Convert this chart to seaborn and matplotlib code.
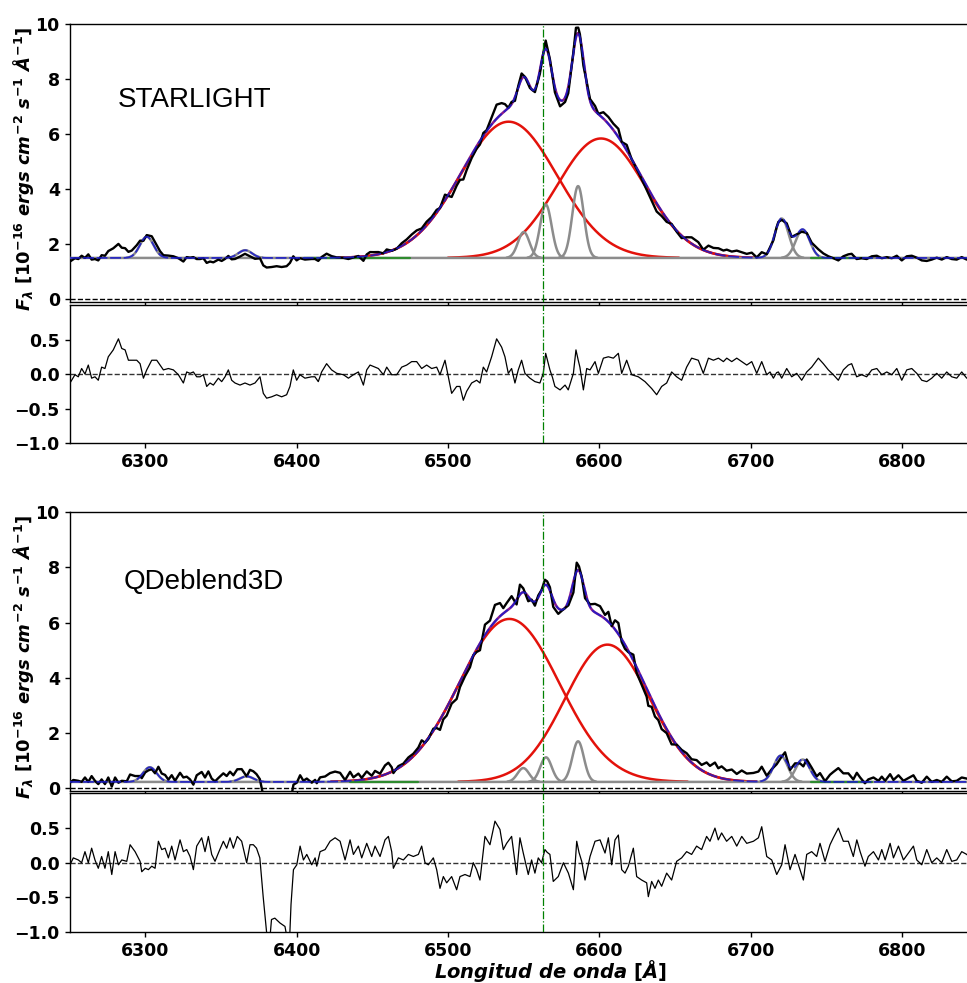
import numpy as np
import seaborn as sns
import matplotlib.pyplot as plt

# ---------------- STARLIGHT fit (upper pair of panels) ----------------
sl_base = 1.5
sl_broad_center = [6540.0, 6601.0]
sl_broad_amp = [4.95, 4.34]
sl_broad_sigma = [32.0, 29.0]
sl_narrow_center = [6301.0, 6366.0, 6550.0, 6564.6, 6585.9, 6720.4, 6734.3]
sl_narrow_amp = [0.77, 0.28, 0.94, 1.94, 2.61, 1.43, 1.03]
sl_narrow_sigma = [4.5, 4.5, 3.8, 3.8, 3.8, 4.6, 4.6]

sl_res_wl = [6250.3, 6253.6, 6255.8, 6258.0, 6260.2, 6262.4, 6264.6, 6266.8, 6269.0, 6271.2,
             6273.4, 6275.6, 6278.9, 6282.3, 6284.5, 6286.7, 6288.9, 6291.1, 6294.4, 6296.6,
             6298.8, 6301.0, 6304.3, 6307.6, 6309.8, 6312.0, 6315.3, 6318.6, 6321.9, 6325.2,
             6327.4, 6329.6, 6331.8, 6334.0, 6336.2, 6338.4, 6340.6, 6342.8, 6345.0, 6348.3,
             6350.5, 6352.7, 6354.9, 6357.1, 6359.3, 6362.6, 6365.9, 6369.2, 6372.5, 6375.8,
             6378.0, 6380.2, 6383.5, 6386.8, 6390.1, 6393.4, 6395.6, 6397.8, 6400.0, 6402.2,
             6405.5, 6409.9, 6412.1, 6414.3, 6416.5, 6419.8, 6423.1, 6426.5, 6430.9, 6434.2,
             6437.5, 6440.8, 6444.1, 6446.3, 6448.5, 6450.7, 6454.0, 6457.3, 6459.5, 6462.8,
             6466.1, 6469.4, 6472.7, 6476.0, 6479.3, 6482.6, 6485.9, 6489.2, 6492.5, 6494.7,
             6498.0, 6500.2, 6502.4, 6505.7, 6507.9, 6510.1, 6512.3, 6515.6, 6518.9, 6521.1,
             6523.3, 6525.5, 6528.8, 6532.1, 6535.4, 6537.6, 6539.8, 6542.0, 6544.2, 6546.4,
             6548.6, 6550.8, 6554.1, 6557.4, 6560.7, 6562.9, 6564.5, 6567.3, 6569.0, 6570.6,
             6574.0, 6577.3, 6579.4, 6582.8, 6584.5, 6586.0, 6587.1, 6589.4, 6591.6, 6593.8,
             6597.1, 6599.3, 6602.6, 6605.9, 6609.2, 6612.5, 6614.7, 6618.0, 6621.3, 6625.7,
             6630.1, 6634.5, 6637.8, 6641.1, 6644.4, 6647.7, 6651.0, 6654.3, 6657.6, 6660.9,
             6665.3, 6668.6, 6672.0, 6675.3, 6678.6, 6681.9, 6684.1, 6687.4, 6690.7, 6694.0,
             6697.3, 6700.6, 6703.9, 6707.2, 6710.5, 6712.7, 6714.9, 6717.0, 6718.2, 6720.4,
             6723.7, 6727.0, 6730.3, 6733.6, 6736.9, 6740.2, 6744.6, 6747.9, 6751.2, 6754.5,
             6757.8, 6761.1, 6764.4, 6766.6, 6769.9, 6773.2, 6776.5, 6779.9, 6783.2, 6786.5,
             6789.8, 6793.1, 6796.4, 6799.7, 6803.0, 6806.3, 6809.6, 6812.9, 6816.2, 6819.5,
             6822.8, 6826.1, 6829.4, 6832.7, 6836.0, 6839.3, 6842.6, 6846.0, 6850.0]
sl_res = [-0.13, -0.01, -0.04, 0.08, 0.00, 0.13, -0.06, -0.04, -0.09, 0.10,
          0.08, 0.25, 0.35, 0.51, 0.37, 0.35, 0.20, 0.20, 0.20, 0.15,
          -0.06, 0.06, 0.20, 0.20, 0.13, 0.06, 0.08, 0.06, -0.01, -0.13,
          0.03, 0.01, 0.03, -0.04, -0.04, -0.01, -0.18, -0.13, -0.16, -0.06,
          -0.11, -0.04, 0.06, -0.09, -0.13, -0.16, -0.13, -0.16, -0.13, -0.04,
          -0.28, -0.35, -0.33, -0.30, -0.33, -0.30, -0.18, 0.06, -0.09, -0.01,
          -0.06, -0.04, -0.04, -0.11, 0.03, 0.15, 0.06, 0.01, -0.01, -0.06,
          -0.01, 0.03, -0.16, 0.06, 0.13, 0.11, 0.08, -0.01, 0.10, -0.01,
          -0.01, 0.10, 0.13, 0.18, 0.18, 0.08, 0.13, 0.08, 0.10, -0.01,
          0.20, -0.04, -0.28, -0.18, -0.18, -0.38, -0.25, -0.13, -0.09, -0.13,
          0.10, 0.03, 0.25, 0.51, 0.39, 0.25, 0.01, 0.08, -0.13, 0.06,
          0.20, 0.01, -0.06, -0.11, -0.13, 0.01, 0.30, 0.06, -0.05, -0.18,
          -0.23, -0.16, -0.23, 0.01, 0.35, 0.20, 0.10, -0.23, 0.08, 0.06,
          0.18, 0.01, 0.23, 0.25, 0.23, 0.30, 0.01, 0.20, -0.01, -0.04,
          -0.11, -0.21, -0.30, -0.18, -0.13, 0.03, -0.04, -0.09, 0.10, 0.23,
          0.20, 0.01, 0.23, 0.20, 0.23, 0.18, 0.23, 0.18, 0.23, 0.18,
          0.13, 0.18, 0.01, 0.18, -0.01, 0.03, -0.06, 0.02, 0.03, -0.06,
          0.08, -0.04, 0.01, -0.09, 0.03, 0.10, 0.23, 0.15, 0.06, -0.01,
          -0.09, 0.06, 0.13, 0.15, -0.04, -0.01, -0.04, 0.06, 0.08, -0.01,
          0.03, -0.01, 0.08, -0.09, 0.06, 0.08, 0.01, -0.09, -0.11, -0.06,
          0.01, -0.06, 0.03, -0.04, -0.06, 0.03, -0.06, -0.02, -0.05]

# ---------------- QDeblend3D fit (lower pair of panels) ----------------
qd_base = 0.23
qd_broad_center = [6540.5, 6605.3]
qd_broad_amp = [5.9, 4.97]
qd_broad_sigma = [33.0, 28.0]
qd_narrow_center = [6303.0, 6367.0, 6549.7, 6564.7, 6585.9, 6719.7, 6734.3]
qd_narrow_amp = [0.53, 0.20, 0.50, 0.89, 1.47, 0.95, 0.81]
qd_narrow_sigma = [4.5, 4.5, 3.8, 3.8, 3.8, 4.6, 4.6]

qd_res_wl = [6250.3, 6252.5, 6255.8, 6258.0, 6260.2, 6262.4, 6264.6, 6266.8, 6269.0, 6271.2,
             6273.4, 6275.6, 6277.9, 6280.1, 6282.3, 6284.5, 6287.8, 6290.0, 6293.3, 6296.6,
             6297.7, 6300.0, 6302.1, 6304.3, 6306.5, 6308.7, 6310.9, 6313.1, 6315.3, 6317.5,
             6319.7, 6323.0, 6325.2, 6327.4, 6329.6, 6331.8, 6334.0, 6337.3, 6339.5, 6341.7,
             6343.9, 6346.1, 6348.3, 6351.6, 6353.8, 6356.0, 6358.2, 6360.8, 6363.7, 6367.0,
             6369.2, 6371.4, 6373.5, 6375.7, 6377.9, 6380.1, 6381.2, 6382.7, 6383.4, 6385.6,
             6389.0, 6392.3, 6393.8, 6395.0, 6396.3, 6397.9, 6400.1, 6402.3, 6404.5, 6406.7,
             6410.0, 6412.2, 6413.3, 6415.5, 6418.8, 6422.1, 6425.4, 6428.7, 6432.0, 6435.3,
             6437.5, 6440.8, 6443.0, 6446.3, 6449.6, 6451.8, 6455.1, 6458.4, 6460.6, 6462.8,
             6463.9, 6467.2, 6470.5, 6473.8, 6477.1, 6480.4, 6482.6, 6484.8, 6487.0, 6490.3,
             6492.5, 6494.7, 6496.9, 6499.1, 6502.4, 6505.7, 6507.9, 6511.2, 6514.5, 6516.7,
             6518.9, 6521.1, 6524.4, 6527.7, 6531.0, 6534.3, 6536.5, 6538.7, 6542.0, 6545.3,
             6547.5, 6549.7, 6553.0, 6555.2, 6557.4, 6559.6, 6561.8, 6564.0, 6565.5, 6567.3,
             6569.5, 6572.8, 6576.2, 6579.5, 6582.8, 6585.0, 6586.5, 6588.3, 6590.5, 6593.8,
             6597.1, 6600.4, 6603.7, 6605.9, 6608.1, 6610.3, 6612.5, 6614.7, 6616.9, 6619.1,
             6622.4, 6624.6, 6627.9, 6631.2, 6632.3, 6634.5, 6636.7, 6638.9, 6641.1, 6644.4,
             6647.7, 6651.0, 6654.3, 6657.6, 6660.9, 6664.2, 6667.5, 6670.8, 6673.0, 6676.3,
             6678.5, 6680.7, 6684.0, 6687.4, 6690.7, 6694.0, 6697.3, 6701.7, 6705.0, 6707.2,
             6710.5, 6713.8, 6717.1, 6720.4, 6722.6, 6725.9, 6729.2, 6732.5, 6734.7, 6736.9,
             6740.2, 6743.5, 6745.7, 6749.0, 6752.3, 6754.5, 6757.8, 6761.1, 6764.4, 6767.7,
             6770.0, 6772.2, 6775.4, 6777.6, 6781.0, 6784.3, 6786.5, 6788.7, 6792.0, 6794.2,
             6797.5, 6800.8, 6804.1, 6807.4, 6809.6, 6812.9, 6816.2, 6819.5, 6822.8, 6826.1,
             6829.4, 6832.7, 6836.0, 6839.3, 6842.6, 6846.0, 6850.0]
qd_res = [-0.03, 0.07, 0.04, 0.00, 0.16, 0.00, 0.21, 0.04, -0.08, 0.09,
          -0.08, 0.16, -0.17, 0.16, -0.03, 0.04, 0.02, 0.26, 0.16, 0.02,
          -0.13, -0.08, -0.10, -0.05, -0.08, 0.31, 0.19, 0.21, 0.07, 0.24,
          0.04, 0.33, 0.16, 0.19, 0.09, -0.10, 0.24, 0.36, 0.16, 0.38,
          0.12, 0.02, 0.14, 0.31, 0.21, 0.36, 0.21, 0.38, 0.31, 0.00,
          0.26, 0.26, 0.21, 0.07, -0.49, -0.99, -1.20, -1.00, -0.82, -0.80,
          -0.87, -0.92, -1.10, -1.30, -0.60, -0.10, -0.03, 0.24, 0.04, 0.12,
          -0.03, 0.07, -0.05, 0.16, 0.19, 0.31, 0.36, 0.31, 0.04, 0.33,
          0.12, 0.24, 0.07, 0.28, 0.09, 0.24, 0.09, 0.33, 0.38, 0.16,
          -0.08, 0.07, 0.04, 0.12, 0.09, 0.12, 0.24, 0.00, -0.03, 0.07,
          -0.10, -0.37, -0.20, -0.29, -0.20, -0.39, -0.20, -0.17, -0.20, 0.00,
          -0.10, -0.25, 0.38, 0.26, 0.60, 0.48, 0.19, 0.28, 0.38, -0.17,
          0.36, 0.14, -0.17, 0.04, -0.15, 0.07, 0.00, 0.19, 0.15, 0.12,
          -0.27, -0.20, 0.00, -0.15, -0.39, 0.31, 0.15, 0.02, -0.25, 0.09,
          0.31, 0.33, 0.14, 0.36, -0.03, 0.33, 0.40, -0.10, -0.15, -0.05,
          0.21, -0.20, -0.25, -0.29, -0.49, -0.27, -0.37, -0.25, -0.34, -0.15,
          -0.25, 0.02, 0.07, 0.16, 0.12, 0.24, 0.19, 0.38, 0.31, 0.50,
          0.33, 0.43, 0.31, 0.38, 0.24, 0.38, 0.28, 0.31, 0.36, 0.52,
          0.09, 0.04, -0.17, -0.03, 0.26, -0.10, 0.12, -0.10, -0.25, 0.12,
          0.16, 0.09, 0.28, 0.02, 0.26, 0.36, 0.50, 0.31, 0.31, 0.09,
          0.33, 0.16, -0.05, 0.09, 0.16, 0.04, 0.19, 0.04, 0.28, 0.07,
          0.24, 0.04, 0.14, 0.24, 0.04, -0.03, 0.19, 0.00, 0.07, 0.00,
          0.19, 0.02, 0.04, 0.16, 0.12, 0.05, 0.08]

sl_green = [(6405, 6475), (6740, 6780)]
qd_green = [(6435, 6480), (6740, 6780)]
halpha = 6563.0
xlim = (6250, 6850)

assert len(sl_res_wl) == len(sl_res) and len(qd_res_wl) == len(qd_res)

sns.set_theme(style='ticks')
plt.rcParams['font.family'] = ['DejaVu Sans']
plt.rcParams['font.weight'] = 'bold'
plt.rcParams['text.color'] = 'black'
plt.rcParams['axes.labelcolor'] = 'black'
plt.rcParams['xtick.color'] = 'black'
plt.rcParams['ytick.color'] = 'black'
plt.rcParams['mathtext.fontset'] = 'custom'
plt.rcParams['mathtext.rm'] = 'DejaVu Sans:bold'
plt.rcParams['mathtext.it'] = 'DejaVu Sans:italic:bold'
plt.rcParams['mathtext.bf'] = 'DejaVu Sans:bold'


def gauss(x, c, a, s):
    return a * np.exp(-0.5 * ((x - c) / s) ** 2)


def line(ax, x, y, **kw):
    sns.lineplot(x=x, y=y, ax=ax, sort=False, errorbar=None, **kw)


def draw_fit(ax, rax, base, bc, ba, bs, nc, na, ns, res_wl, res, gw):
    grid = np.linspace(xlim[0], xlim[1], 2401)
    broad = sum(gauss(grid, c, a, s) for c, a, s in zip(bc, ba, bs))
    narrow = sum(gauss(grid, c, a, s) for c, a, s in zip(nc, na, ns))
    total = base + broad + narrow

    wl = np.array(res_wl)
    r = np.array(res)
    obs = base + r
    for c, a, s in zip(bc, ba, bs):
        obs = obs + gauss(wl, c, a, s)
    for c, a, s in zip(nc, na, ns):
        obs = obs + gauss(wl, c, a, s)

    # full model underneath (purple)
    m = broad > 0.01
    line(ax, grid[m], total[m], color='#8b1a8b', lw=1.8, zorder=2)
    # broad components
    for c, a, s in zip(bc, ba, bs):
        g = gauss(grid, c, a, s)
        m = g > 0.01
        line(ax, grid[m], base + g[m], color='#e3120b', lw=1.8, zorder=3)
    # continuum and narrow components
    line(ax, grid, np.full_like(grid, base), color='#8c8c8c', lw=1.8, zorder=4)
    for c, a, s in zip(nc, na, ns):
        g = gauss(grid, c, a, s)
        m = g > 0.01
        line(ax, grid[m], base + g[m], color='#8c8c8c', lw=1.8, zorder=4)
    for lo, hi in gw:
        line(ax, [lo, hi], [base, base], color='#2e8b2e', lw=1.6, zorder=4.5)
    # observed and total model
    line(ax, wl, obs, color='black', lw=1.7, zorder=5)
    line(ax, grid, total, color='#1a1acc', lw=1.3, alpha=0.85, zorder=6,
         dashes=(6, 1.5))

    ax.axhline(0, color='black', ls='--', lw=1.0, zorder=1)
    ax.axvline(halpha, color='green', ls='-.', lw=0.9, zorder=7)
    ax.set_xlim(*xlim)
    ax.set_ylim(-0.1, 10)
    ax.set_yticks([0, 2, 4, 6, 8, 10])
    ax.set_xticks([6300, 6400, 6500, 6600, 6700, 6800])
    ax.set_xticklabels([])
    ax.set_ylabel(r'$F_\lambda$ [10$^{-16}$ $ergs$ $cm^{-2}$ $s^{-1}$ $\AA^{-1}$]',
                  fontsize=13, fontweight='bold')
    ax.yaxis.set_label_coords(-0.037, 0.48)
    ax.set_xlabel('')

    line(rax, wl, r, color='black', lw=0.9, zorder=3)
    rax.axhline(0, color='#333333', ls='--', lw=1.0, zorder=2)
    rax.axvline(halpha, color='green', ls='-.', lw=0.9, zorder=4)
    rax.set_xlim(*xlim)
    rax.set_ylim(-1.0, 1.0)
    rax.set_yticks([-1.0, -0.5, 0.0, 0.5])
    rax.set_xticks([6300, 6400, 6500, 6600, 6700, 6800])
    rax.set_xlabel('')
    rax.set_ylabel('')

    for a in (ax, rax):
        a.tick_params(labelsize=12.5, width=1, length=3.5)
        for sp in a.spines.values():
            sp.set_linewidth(1.0)
            sp.set_color('black')


fig = plt.figure(figsize=(9.67, 9.83), dpi=100)
L, W = 0.0719, 0.9394
ax1 = fig.add_axes([L, 0.6928, W, 0.2828])
ax2 = fig.add_axes([L, 0.5493, W, 0.1404])
ax3 = fig.add_axes([L, 0.1953, W, 0.2838])
ax4 = fig.add_axes([L, 0.0519, W, 0.1409])

draw_fit(ax1, ax2, sl_base, sl_broad_center, sl_broad_amp, sl_broad_sigma,
         sl_narrow_center, sl_narrow_amp, sl_narrow_sigma, sl_res_wl, sl_res,
         sl_green)
draw_fit(ax3, ax4, qd_base, qd_broad_center, qd_broad_amp, qd_broad_sigma,
         qd_narrow_center, qd_narrow_amp, qd_narrow_sigma, qd_res_wl, qd_res,
         qd_green)

ax1.text(6282, 7.0, 'STARLIGHT', fontsize=20, fontweight='normal',
         family='Liberation Sans', color='black', ha='left', va='baseline')
ax3.text(6286, 7.2, 'QDeblend3D', fontsize=20, fontweight='normal',
         family='Liberation Sans', color='black', ha='left', va='baseline')

ax4.set_xlabel(r'$Longitud\ de\ onda\ [\AA]$', fontsize=14)
ax4.xaxis.set_label_coords(0.529, -0.19)

fig.savefig('out.png', dpi=100)
